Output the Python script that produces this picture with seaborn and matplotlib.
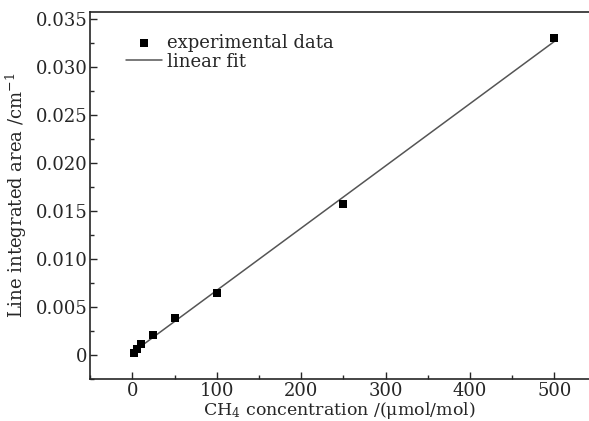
import numpy as np
import pandas as pd
import matplotlib
matplotlib.use("Agg")
import matplotlib.pyplot as plt
import seaborn as sns
from matplotlib.ticker import MultipleLocator

# Du lieu doc tu hinh
concentration = [2, 5, 10, 25, 50, 100, 250, 500]
line_area = [0.00022, 0.00062, 0.00115, 0.00212, 0.00385, 0.00648, 0.0157, 0.0330]

x_ticks = [0, 100, 200, 300, 400, 500]
y_ticks = [0, 0.005, 0.010, 0.015, 0.020, 0.025, 0.030, 0.035]
y_tick_labels = ["0", "0.005", "0.010", "0.015", "0.020", "0.025", "0.030", "0.035"]


def main():
    sns.set_style("ticks")
    plt.rcParams["font.family"] = ["DejaVu Serif"]
    plt.rcParams["mathtext.fontset"] = "dejavuserif"
    plt.rcParams["xtick.direction"] = "in"
    plt.rcParams["ytick.direction"] = "in"

    df = pd.DataFrame({"x": concentration, "y": line_area})

    # Duong fit tuyen tinh
    k, b = np.polyfit(df["x"], df["y"], 1)
    fit = pd.DataFrame({"x": [df["x"].min(), df["x"].max()]})
    fit["y"] = k * fit["x"] + b

    fig = plt.figure(figsize=(5.89, 4.21), dpi=100)
    ax = fig.add_axes([0.153, 0.099, 0.847, 0.873])

    sns.scatterplot(data=df, x="x", y="y", ax=ax, marker="s", s=30,
                    color="black", edgecolor="black", linewidth=0,
                    label="experimental data", zorder=3)
    sns.lineplot(data=fit, x="x", y="y", ax=ax, color="#555555",
                 linewidth=1.1, label="linear fit", zorder=2)

    ax.set_xlim(-50, 541)
    ax.set_ylim(-0.0025, 0.0357)
    ax.set_xticks(x_ticks)
    ax.set_yticks(y_ticks)
    ax.set_yticklabels(y_tick_labels)
    ax.xaxis.set_minor_locator(MultipleLocator(50))
    ax.yaxis.set_minor_locator(MultipleLocator(0.0025))
    ax.tick_params(which="major", direction="in", length=5, width=1,
                   labelsize=13, pad=2, top=False, right=False)
    ax.tick_params(which="minor", direction="in", length=3, width=1,
                   top=False, right=False)

    for side in ["left", "bottom", "top"]:
        ax.spines[side].set_linewidth(1.2)
        ax.spines[side].set_visible(True)
    ax.spines["right"].set_visible(False)

    ax.set_xlabel(r"CH$_4$ concentration /($\mathrm{\mu}$mol/mol)", fontsize=12.5, labelpad=0)
    ax.set_ylabel(r"Line integrated area /cm$^{-1}$", fontsize=13, labelpad=5)

    ax.legend(loc="upper left", bbox_to_anchor=(0.05, 0.97), frameon=False,
              fontsize=13, handlelength=2.0, handletextpad=0.3,
              labelspacing=0.05, borderaxespad=0.2)

    fig.savefig("out.png", dpi=100)


if __name__ == "__main__":
    main()
